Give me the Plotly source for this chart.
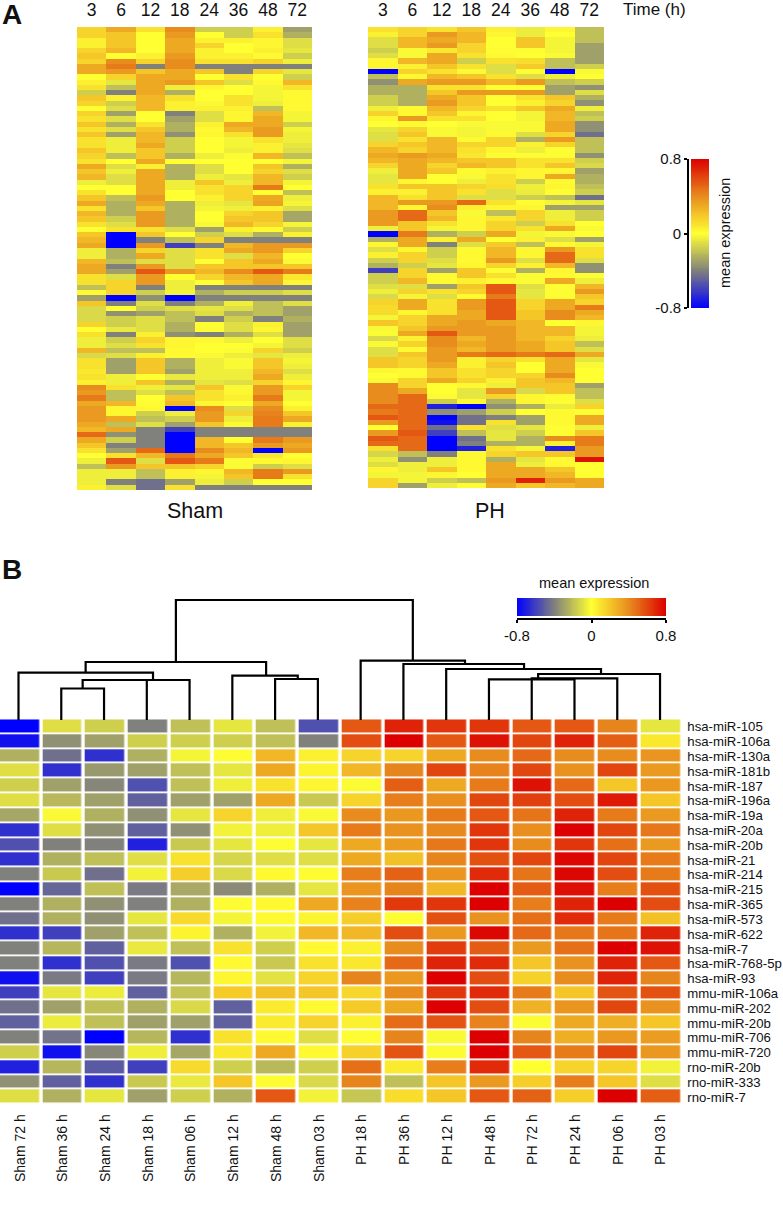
#!/usr/bin/env python3
"""Panel A: miRNA heatmaps over time (Sham, PH). Panel B: clustered heatmap with dendrogram."""
import numpy as np
import plotly.graph_objects as go

W, H = 783, 1210
FONT = "Liberation Sans"

times = ["3", "6", "12", "18", "24", "36", "48", "72"]

# panel A, one list per time point, in tenths of mean expression
sham_03 = [1.5,1.5,.5,.5,1.5,2,1.5,3,3,0,.5,1,-1.5,2,1.5,0,1.5,1,2,1,2,1,1,2,1.5,1,3,2,2.5,-.5,0,1,2,3,1,2.5,2,1,0,2,2.5,3,-.5,-.5,
           2.5,3,3,1,1,-2,.2,-3,2,-1.2,-1.2,-1.2,1.5,0,1,-.5,-.5,2.5,-1.2,1,1,.8,1,.5,4,3.5,4.5,3,3.5,3.5,3.5,3,2.5,5,3,2,1,0,-.5,-2,-.5,-.5,-.5,.5]
sham_06 = [3,2,2,2,2.5,0,4,4.5,3.5,1.5,-.8,-2,-4,.5,-1.5,-1,-3,-1,-2.5,-1,-3,-.5,-.5,-.5,-2,0,-1,-.5,-1,-1,0,0,-2,-2.5,-2.5,-2.5,-1.5,-1,1,-8,-8,-8,-2.5,-2.5,
           -2,-4,-3,-1,1.5,1.5,1.5,-8,-4,0,-3.5,-1.5,-1.5,-.7,-4,-1.5,-1,-2,-1,-3,-3,-3,-.5,-.5,1,-2,-2,2.5,.3,.3,3,-2,3,-3.5,-1.5,-4,-3,1,5.5,3.5,-.5,-.5,-4,-1]
sham_12 = [1,0,0,0,0,.5,1.5,-4,2,3,3,3,3,2.5,2.5,2.5,0,0,1,2,2.5,2.5,3,2,2,3,.5,3,3,3,3,3,3.5,3,2,3.5,3.5,3.5,1,2,-4,3.5,1.5,3,
           -1,3.5,5.5,3.5,3.5,-4,-1.5,-3.5,-1,-1.5,-3,-1,-1,-1,.5,1.5,1,-2,.5,2,2,2,0,2,-.5,-1,0,.1,.2,-1.5,-2,-1,-4,-4,-4,-4,5,2.5,-1,2,-2,-2,-4.5,-4.5]
sham_18 = [4,3.5,3,3,3,3.5,4,4,3,3,3.5,-.5,-2.5,1,.5,.5,-4,-3,-2.5,-2.5,-3.5,-1.5,-1.5,-1.5,-2.5,0,-2.5,-2.5,-2.5,-.5,-.5,0,0,-2.5,-2.5,-2.5,-2.5,-2.5,-1,0,-2,-6,-1,-1,
           -1,-1,3.5,0,-.5,-.5,-.3,-8,-4,-1,-2,-2,-2.5,-2.5,-3.5,.3,.3,.2,.2,-2.5,-2.5,-3,-.7,-2.5,-.8,-2,2,2.5,-8,-.5,-1.5,-3,-6,-8,-8,-8,-8,4.5,5.5,2,.5,.5,-3,1]
sham_24 = [-1.5,0,.5,1.5,.5,.5,1,-4,2,0,2,.3,0,0,-.2,.5,-1,-1,.5,.2,.3,0,0,0,-.5,0,-1,-1,-.5,2,1,1,.5,-.5,-.3,0,0,-.2,-3,-1.5,1.5,-4,1,1,
           0,2,2.5,1.5,0,-4,-2.5,-4,-2.5,-.8,-1,-4,.1,.1,-4,.2,0,0,-.2,-.5,-.5,-.5,-.5,-.8,2,1,1,.3,4,3.5,3.5,2,-4,-4,2.5,2.5,4,3,4.5,1.5,.3,-.3,-.5,-4]
sham_36 = [-1.5,-1.5,.5,0,0,.5,1,-4,-4,1,-1,0,0,1,1,.5,.3,.3,3,2.5,1,-.3,-.3,-.5,-.1,0,0,0,-.8,-.5,1.5,1.5,1.5,-.8,-.5,1.5,2,2.5,.5,-1,-4,2.5,3,-1,
           2,2,4,2.5,2,-4,-1.5,-4,-.5,-1,-2.5,-1.5,-1,-1,-2.5,-.5,0,-.1,-.5,-.2,-.2,-.5,-.5,-1,-.2,.3,.5,0,-1,1.5,-.5,.2,-4,-4,0,2,2.5,2,-.1,-.1,2.5,2,-1.5,-4]
sham_48 = [.5,1,.3,.3,.5,.2,1.5,-4,1.5,0,.2,-.3,-.3,-.3,-.5,-2,2.5,3,3,3.5,3.5,1,.5,.5,2.5,0,2,1.5,2.5,2.5,4.5,0,3,3.2,.5,2,2,1.5,.2,-2.5,-4,3.5,3.5,2.5,
           3,2,5.5,3,3,-4,-1.5,-4,-2,-2,-2,-4,.5,.3,-1,0,-.3,1.5,-.8,2,2,2.5,3,1.5,3.5,3.5,4.5,3,4,4.3,4.5,4.5,-4,-4,4.5,3.5,-8,.8,.2,-1.5,4.5,4.5,0,-4]
sham_72 = [-3,-2.5,-1,-1,-.8,-1.5,-.5,-4,-.8,-1.5,2.5,1,.2,.2,.2,.2,-.3,-.3,-1.5,-.3,-.5,-.5,-.8,-1,-2,-.3,-2.5,-1,-1.5,-.3,0,-2,-.5,-.3,-1,-2.8,-2.8,-.3,-1.5,.5,-4,3.5,1.5,0,
           -.2,2,4.5,.8,.3,-4,-1,-4,-1,-3,-3,-2.5,-3,-3,-3,-1,-1,-1.5,-.5,-.3,-.5,-1,-.5,.3,1.5,-.3,-.3,0,.5,2,3,.5,-4,-4,3.5,3,3.5,0,.3,-1,3.5,1,0,-4]

ph_03 = [1,.5,-1,-1,-1.5,-1,.3,.3,-8,-2,-3.5,-2.5,-2.5,-1.5,-1.5,-.5,1.5,.3,0,-.8,-1,-1,1.5,2.5,3,2.5,1.5,-.5,-.8,-.8,1,.5,2.5,2.5,2.5,3.5,3.5,3.5,-.5,-8,-2.5,.3,-1,.5,
         -1.5,-2.5,-6,-1.5,-1.5,-1,-.5,-1.2,1.5,1.3,1.3,-.3,2,-.2,-.1,-1.2,-.2,-1,-1,2,2,.3,0,-.2,4,4,4,4,5,4.5,5.5,3.5,0,3.5,5.5,5,1,-1.3,-.5,-1,.3,-.3,1.5,1.5]
ph_06 = [1.5,1.5,2.5,2.5,-.2,-.2,2.5,.5,1.5,.2,3,-2.5,-2.5,-2.5,-2.5,.2,.2,3.5,.2,1.5,2,1,2,1.5,3.5,3,3,3,3,.3,2,.5,1,3.5,.3,5,5,2,2,4.5,3,3,.3,1.5,
         1.5,-1.5,1.5,1.5,2.5,-1,1.5,-.3,3,3,.3,1.5,1.5,2,3,.5,1.5,.2,2,1.5,1.5,.2,.2,1.5,1.5,3,5,5,5,5,5,5,5,5.5,5,5,5,-2,-3.5,-.5,-.5,-.3,-.3,-3]
ph_12 = [1,3.5,3,3.5,.8,3,3,2,1,2.5,3.5,1,2,3,3.5,2.5,2,1,0,-.2,-.2,2.5,2.5,2.5,3,2.5,1.5,2,0,0,2,2,2,3.5,4,2,2.5,1,-.3,-2.5,.5,-4,-1.5,-1.5,
         -1,-.8,-3,.2,.2,-3,1,-1,1,1,1,3,3,3.5,5.5,4,4,3.5,3.5,3.5,3,2,2,3,0,0,.2,-1.5,-7,-3.5,-8,-7.5,-4.5,-6,-8,-8,-8,-4,-.5,-.5,2,.3,-1.5,-.5]
ph_18 = [2,2.5,2.5,1.5,1.5,1,-1.5,1,-.2,2,3.5,1,3.5,2,2,1.5,.3,1,-.2,-.3,-.3,.2,1.5,1,.8,2,2.5,.2,-.2,-.5,1.5,1,-1,5,.5,-.2,.3,.3,.3,-1.5,3,-1,.2,.2,
         .2,.3,2,2,.5,2,1.5,.2,3.5,3.5,3,3,3.5,3.5,3.5,2.5,3,2.5,4.5,.5,.5,1,1,1.5,.2,-.8,-.8,.2,-8,-3,-4.5,-4.5,1,-2,-4.5,-4,-7,.2,.2,.2,.2,0,-2,.1]
ph_24 = [.5,.3,0,0,.1,.2,1,-1,-1,1,2.5,0,3.5,0,0,1,0,0,-.2,-.2,.2,1.5,1.5,.3,.1,2,2,.5,1,1,1.2,-1,-1,1,.3,-2,.8,1.5,1.5,3,0,1.8,2.5,2.5,
         3.5,1.5,.1,1,.2,5.5,5.5,4.5,5.5,5.5,5.5,5.5,3,3.5,3.5,3.5,3.5,3.5,5,1.5,2,1.5,1.5,.5,-.5,3.5,1.5,-2.5,-3.5,-1.5,-4,1,-1,-.8,-.8,-2.5,1,1.5,-2.5,3,3,3,3.5,3]
ph_36 = [-.6,-.6,2,2,.1,0,1.2,1.8,.1,-1,3.5,.1,3.5,1,.5,2,-.3,-.3,-.2,-.2,-1,-2.5,.5,-.5,.1,1,1,.3,.3,-1.5,-.5,-.6,-1.5,.1,.3,1.5,1.5,-1.5,1,-.3,.5,-2,.3,.3,
         -1,.5,-2.5,-.1,-.1,-1,-.8,-.8,1.5,1.5,2,2,2.5,2.5,2.5,2.5,3,3,4.5,1,0,0,1.5,2,2,-1.2,.3,.3,-2.5,0,-3,-3,-.8,-1.5,-2.5,-2.5,-.3,2,-.8,-.5,3,3,7,2]
ph_48 = [.3,0,-.3,-.3,-.3,-.2,-2,-2,-8,-.5,-2,-3,-3,2,1.5,3,2.5,2.5,3,3,1.5,3.5,1.5,.1,.1,1,2,.3,3,.2,.3,.1,-2,-.3,-3,-.5,-.5,1,3,-.2,-1,.2,3.5,5,
         5,2.5,.3,.2,3,.1,.1,.1,3,3,4,4,0,2.5,2.5,1.5,2,2,5,3,3,3,4,2.5,2,2,.1,.1,-.6,.2,.2,.2,.1,.1,4,.5,-7,2,.2,.2,2,2.5,3.5,2.5]
ph_72 = [-2,-2,-2,-3,-3,-3,-3,-1.5,-.2,0,-1.5,-3.5,-1,-2.5,-3.5,-.5,-2,-1.5,-3.5,-3.5,-4.5,-2,-2,-2,-3.5,-1.5,-1.2,-3,-2.5,-2.5,-2,-1.5,-4.5,-.8,-3,-1.5,-1.5,0,-.2,0,-3,-.3,1,1,
         -1,-3.5,-3.5,.1,-.5,2.5,3.5,2,1.5,4.5,3,2.5,.3,-.3,-.3,-.5,-2,-1,3,-.8,-.2,0,0,0,-3,-2,-2,-1,1.5,.1,3,3,-.5,2,4.5,4.5,3.5,3.5,7.5,0,0,0,3,3]

# panel B
mirnas = ["hsa-miR-105", "hsa-miR-106a", "hsa-miR-130a", "hsa-miR-181b", "hsa-miR-187", "hsa-miR-196a",
          "hsa-miR-19a", "hsa-miR-20a", "hsa-miR-20b", "hsa-miR-21", "hsa-miR-214", "hsa-miR-215",
          "hsa-miR-365", "hsa-miR-573", "hsa-miR-622", "hsa-miR-7", "hsa-miR-768-5p", "hsa-miR-93",
          "mmu-miR-106a", "mmu-miR-202", "mmu-miR-20b", "mmu-miR-706", "mmu-miR-720",
          "rno-miR-20b", "rno-miR-333", "rno-miR-7"]
samples = ["Sham 72 h", "Sham 36 h", "Sham 24 h", "Sham 18 h", "Sham 06 h", "Sham 12 h", "Sham 48 h", "Sham 03 h",
           "PH 18 h", "PH 36 h", "PH 12 h", "PH 48 h", "PH 72 h", "PH 24 h", "PH 06 h", "PH 03 h"]
# rows follow mirnas, columns follow samples, tenths of mean expression
expr_rows = [
    [-8,-1,-1.5,-4,-2,-.8,-2,-5.5, 5.5,7,6.5,6.5,5.5,5.5,4.2,-.8],
    [-7.5,-3.5,-3,-1.5,-1.5,-1.5,-2,-4, 5.8,8,5.5,7.5,6,7,5.3,.8],
    [-2.5,-4.5,-6.5,-2.5,-.3,.1,2.5,.5, 1.5,1.5,3,4,5,4,4,3.7],
    [-1,-6.5,-3.2,-3,-2,-.8,3,.4, 2.5,4.2,6,4.3,6,3.8,6,3.5],
    [-1.5,-3,-3.8,-5.5,-2,-.5,1,.3, -.1,5.3,3,4.5,7.5,5,2,3.6],
    [-1,-2.2,-3,-5,-3,-3,3,-1.7, 1.5,4.4,3.9,6,6.2,5.8,7.3,2],
    [-2.8,-.2,-2.5,-3.5,-.8,1.5,-.5,-.2, 4,3.6,4.5,5.5,4.7,7,4.5,3.5],
    [-6.5,-1,-3.5,-5,-3.5,-.4,-.5,2, 4.5,3.8,4.1,6.5,3.9,8,6,4.6],
    [-5.5,-4,-4,-7,-1.7,-.8,.1,-.8, 3,3.4,4.6,6.5,4,6.5,4.8,3.5],
    [-6.5,-2.5,-2,-1,1,-1.3,-1,-1, 3,2.2,4.2,5.7,6,7.8,6,4.5],
    [-4,-1.7,-4.5,-.4,1.7,-1.2,.2,.1, 4.4,5.2,3.7,6.8,4.7,7.8,5.8,4.5],
    [-8,-4.8,-2,-4.2,-2.7,-3.7,-2.5,-.8, 3.7,4.2,2.5,8,5.4,7.6,4.4,5.7],
    [-4,-2.5,-3.5,-4,-2.5,.1,.2,3, 4.3,6.4,6.5,8,4.4,7,8,5.8],
    [-4.5,-2.5,-3.5,-.8,1.3,-.3,.2,.4, 1.7,.1,5.7,3.8,4.8,6.8,4.5,2.2],
    [-6.5,-6,-3,-2,.4,-2.5,-.4,2.5, 2.5,5.8,3.6,7.8,5,4.6,4.7,7],
    [-4,-2.3,-5,-.7,-2,1,-1.5,.2, .5,4,6.3,5.4,3.5,4.8,8,7.5],
    [-4,-6.5,-5.5,-4.2,-5.5,.2,-1.7,1, .8,5,7,6.8,2,3.8,7,5.5],
    [-7.5,-4.2,-6,-4.2,-2.3,.3,-.9,1.5, 4.2,3.6,8,5.8,1.6,4,7,4.2],
    [-6,-.8,-.6,-5,-1.9,1.8,2.2,2, 1.4,4,6.5,6.8,4.5,2,5.6,5.7],
    [-4.5,-3,-2,-2.5,-1.2,-5,.7,.2, 1.8,3,8,5.8,2.7,3.7,6,3.8],
    [-5,-.6,-2,-3,-3,-5,.7,1.5, .5,4.9,5.6,4.3,-.1,3,2.8,2],
    [-4,-4.4,-8,-2.3,-6.5,1,.2,-1, .1,4.2,-.2,8,4.2,2.8,3.6,3.4],
    [-1.5,-7.5,-3.8,-.5,-2.8,.8,3,.2, 1.6,5.6,-.1,8,5.5,4.5,6,3.6],
    [-7,-2.3,-5.2,-6,1.3,-1.5,-2.2,-1.5, 4.8,.7,4.4,6.8,0,1.5,1.5,-.4],
    [-3.5,-5,-6.5,-1.7,-.7,2,.1,-1.2, 4.2,-2,2,3.5,1.7,4.4,2,-1],
    [-1,-2.5,-.8,-3,-1.5,-2.5,5.5,-.4, -1.8,1.2,2,5.5,5.2,1.7,8,5.3],
]

# dendrogram merges: leaf positions along the columns, heights above the heatmap
merge_left = [3.68, 1.57, 0, 1.5, 3, 1, 5, 6, 8, 9, 10, 12.15, 12, 11]
merge_right = [9.22, 5.79, 3.145, 4, 3, 2, 6.53, 7, 10.44, 11.82, 13.62, 15, 14, 13]
merge_height = [120, 58, 47.3, 40, 40, 31.5, 44.3, 41, 59.3, 56, 51, 46, 41.7, 40.7]
merge_left_base = [58, 47.3, 0, 31.5, 0, 0, 0, 0, 0, 0, 0, 41.7, 0, 0]
merge_right_base = [59.3, 44.3, 40, 0, 0, 0, 41, 0, 56, 51, 46, 0, 0, 0]

SCALE = [[0, "rgb(0,0,255)"], [.25, "rgb(128,128,125)"], [.5, "rgb(255,255,50)"],
         [.75, "rgb(232,140,30)"], [1, "rgb(220,0,0)"]]


def dx(a, b):
    return [a / W, b / W]


def dy(top, bottom):
    return [1 - bottom / H, 1 - top / H]


def heat(z, x, y, xa, ya, **kw):
    return go.Heatmap(z=z, x=x, y=y, xaxis=xa, yaxis=ya, colorscale=SCALE, zmin=-.8, zmax=.8,
                      showscale=False, **kw)


sham = np.array([sham_03, sham_06, sham_12, sham_18, sham_24, sham_36, sham_48, sham_72]).T / 10
ph = np.array([ph_03, ph_06, ph_12, ph_18, ph_24, ph_36, ph_48, ph_72]).T / 10
expr = np.array(expr_rows) / 10
ramp = np.linspace(-.8, .8, 161)

fig = go.Figure()
fig.add_trace(heat(sham, times, list(range(sham.shape[0])), "x", "y"))
fig.add_trace(heat(ph, times, list(range(ph.shape[0])), "x2", "y2"))
fig.add_trace(heat(ramp[:, None], [0], ramp, "x3", "y3"))
fig.add_trace(heat(ramp[None, :], ramp, [0], "x4", "y4"))
fig.add_trace(heat(expr, list(range(16)), list(range(26)), "x5", "y5", xgap=3.5, ygap=1.8))

xs, ys = [], []
for l, r, h, lb, rb in zip(merge_left, merge_right, merge_height, merge_left_base, merge_right_base):
    xs += [l, l, r, r, None]
    ys += [lb, h, h, rb, None]
fig.add_trace(go.Scatter(x=xs, y=ys, xaxis="x6", yaxis="y6", mode="lines",
                         line=dict(color="black", width=2.2), hoverinfo="skip"))

tick_font = dict(family=FONT, size=17.5, color="#111")
hidden = dict(showticklabels=False, showgrid=False, zeroline=False, ticks="")
top_times = dict(type="category", side="top", showgrid=False, zeroline=False, ticks="",
                 tickfont=tick_font, ticklabelstandoff=7)

fig.update_layout(
    width=W, height=H, autosize=False, margin=dict(l=0, r=0, t=0, b=0, autoexpand=False),
    paper_bgcolor="white", plot_bgcolor="rgba(0,0,0,0)", showlegend=False,
    font=dict(family=FONT, color="#111"),
    xaxis=dict(domain=dx(77, 312), anchor="y", **top_times),
    yaxis=dict(domain=dy(27, 490), anchor="x", autorange="reversed", **hidden),
    xaxis2=dict(domain=dx(368, 604), anchor="y2", **top_times),
    yaxis2=dict(domain=dy(27, 488), anchor="x2", autorange="reversed", **hidden),
    xaxis3=dict(domain=dx(691, 709), anchor="y3", **hidden),
    yaxis3=dict(domain=dy(159, 308), anchor="free", position=688 / W, side="left",
                range=[-.8, .8], tickvals=[-.8, 0, .8], ticktext=["-0.8", "0", "0.8"],
                showline=True, linecolor="black", linewidth=1.6, ticks="outside", ticklen=3,
                tickwidth=1.6, tickcolor="black", showgrid=False, zeroline=False,
                tickfont=dict(family=FONT, size=15, color="#111")),
    xaxis4=dict(domain=dx(517, 666), anchor="free", position=1 - 619 / H, side="bottom",
                range=[-.8, .8], tickvals=[-.8, 0, .8], ticktext=["-0.8", "0", "0.8"],
                showline=True, linecolor="black", linewidth=1.6, ticks="outside", ticklen=3,
                tickwidth=1.6, tickcolor="black", showgrid=False, zeroline=False,
                tickfont=dict(family=FONT, size=15, color="#111")),
    yaxis4=dict(domain=dy(598, 616), anchor="x4", **hidden),
    xaxis5=dict(domain=dx(0, 682.3), anchor="y5", range=[-.468, 15.5], side="bottom",
                tickvals=list(range(16)), ticktext=samples, tickangle=-90, ticks="",
                ticklabelstandoff=6, showgrid=False, zeroline=False,
                tickfont=dict(family=FONT, size=14, color="#111")),
    yaxis5=dict(domain=dy(719.3, 1104.5), anchor="x5", range=[25.5, -.5], side="right",
                tickvals=list(range(26)), ticktext=mirnas, ticks="", ticklabelstandoff=4,
                showgrid=False, zeroline=False,
                tickfont=dict(family=FONT, size=13.2, color="#111")),
    xaxis6=dict(domain=dx(0, 683), anchor="y6", range=[-.4325, 15.537], visible=False),
    yaxis6=dict(domain=dy(595, 720), anchor="x6", range=[0, 125], visible=False),
)


def label(text, x, y, size, **kw):
    fig.add_annotation(text=text, x=x / W, y=1 - y / H, xref="paper", yref="paper", showarrow=False,
                       xanchor="center", yanchor="middle", font=dict(family=FONT, size=size, color="#111"), **kw)


label("<b>A</b>", 12, 15, 28)
label("<b>B</b>", 12, 569, 28)
label("Time (h)", 654, 10, 17)
label("Sham", 195, 511, 21.5)
label("PH", 490, 511, 21.5)
label("mean expression", 725, 233, 14.5, textangle=-90)
label("mean expression", 594, 583, 14.5)

fig.write_html("out.html", config={"displayModeBar": False},
               post_script="document.body.style.margin='0';")
